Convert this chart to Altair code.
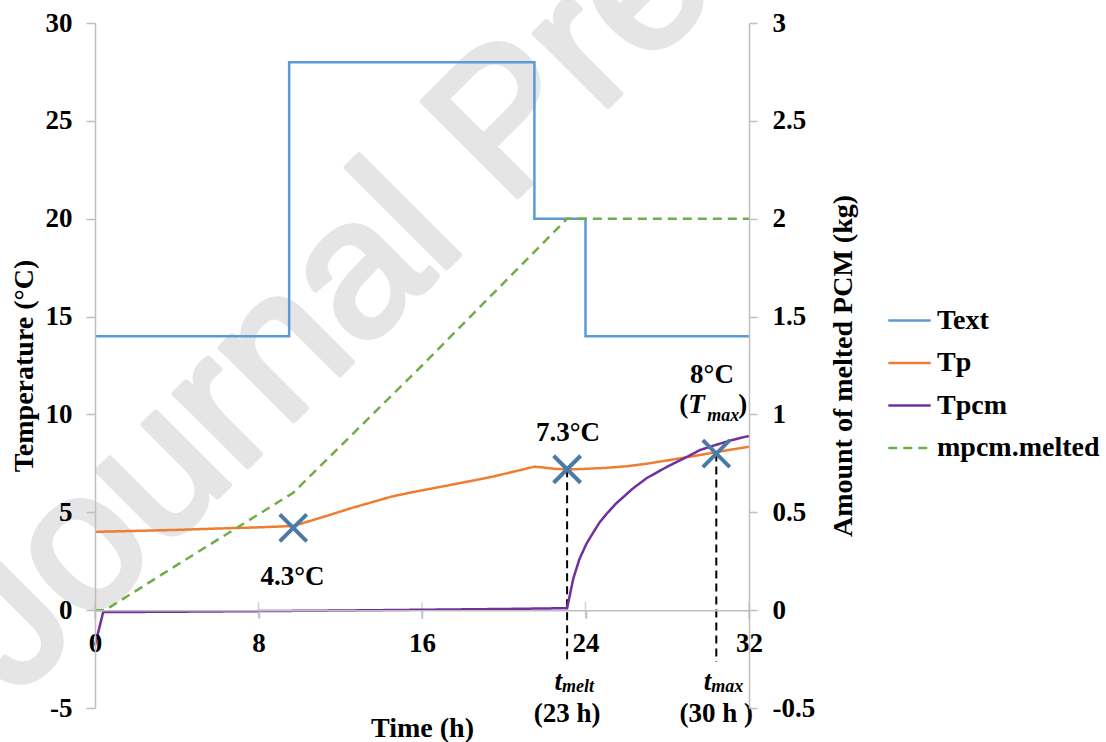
import altair as alt
import pandas as pd

# ---------------- values ----------------
series = ["Text", "Tp", "Tpcm", "mpcm.melted"]
series_colors = ["#5B9BD5", "#ED7D31", "#7030A0", "#70AD47"]

# outdoor temperature (step profile)
text_t = [0, 9.5, 21.5, 24, 32]
text_temp = [14, 28, 20, 14, 14]

# panel temperature
tp_t = [0, 2, 4, 6, 8, 9.7, 10.5, 11.5, 12.5, 13.5, 14.5, 15.5, 16.5, 17.5,
        18.5, 19.5, 20.5, 21.5, 22, 22.5, 23, 23.5, 24, 25, 26, 27, 28, 29,
        30, 31, 32]
tp_temp = [4.0, 4.05, 4.1, 4.17, 4.23, 4.3, 4.55, 4.87, 5.2, 5.5, 5.8, 6.02,
           6.22, 6.42, 6.62, 6.83, 7.08, 7.33, 7.28, 7.22, 7.2, 7.2, 7.22,
           7.27, 7.35, 7.48, 7.65, 7.82, 8.0, 8.18, 8.35]

# PCM temperature
tpcm_t = [0, 0.4, 4, 8, 12, 16, 20, 23.1, 23.4, 23.7, 24.05, 24.4, 24.7,
          25.1, 25.5, 26.3, 27, 28, 29, 29.6, 30.4, 31.2, 32]
tpcm_temp = [-1.8, -0.1, -0.08, -0.05, -0.02, 0.02, 0.06, 0.1, 1.6, 2.6, 3.4,
             4.0, 4.5, 5.0, 5.45, 6.2, 6.75, 7.33, 7.85, 8.18, 8.45, 8.7, 8.9]

# melted PCM mass (right axis, kg)
melt_t = [0, 0.5, 4, 9.7, 16, 23.1, 32]
melt_kg = [0, 0, 0.23, 0.6, 1.25, 2.0, 2.0]

# highlighted points and their guides
mark_t = [9.7, 23.1, 30.4]
mark_temp = [4.2, 7.2, 8.0]
guide_t = [23.1, 30.4]
guide_top = [7.2, 8.0]
guide_bottom = [-2.65, -2.65]

# value annotations
label_text = ["4.3°C", "7.3°C", "8°C"]
label_t = [9.66, 23.14, 30.19]
label_temp = [1.28, 8.64, 11.61]

# time annotations below the axis
time_sym = ["t", "t"]
time_sub = ["melt", "max"]
time_hours = ["(23 h)", "(30 h )"]
time_sym_temp = [-4.08, -4.08]
time_hours_temp = [-5.72, -5.72]

# (T_max) annotation
tmax_t = [30.4]
tmax_temp = [10.07]

# watermark
wm_text = ["Journal Pre-proof"]
wm_t = [-3.87]
wm_temp = [-4.49]

x_ticks = [0, 8, 16, 24, 32]
temp_ticks = [-5, 0, 5, 10, 15, 20, 25, 30]
kg_ticks = [-0.5, 0, 0.5, 1, 1.5, 2, 2.5, 3]

# ---------------- chart ----------------
FONT = "Liberation Serif"
W, H = 654, 685
GREY = "#BFBFBF"

x_scale = alt.Scale(domain=[0, 32], nice=False, zero=False)
y_scale = alt.Scale(domain=[-5, 30], nice=False, zero=False)
kg_scale = alt.Scale(domain=[-0.5, 3], nice=False, zero=False)
color_scale = alt.Scale(domain=series, range=series_colors)
dash_scale = alt.Scale(domain=series, range=[[1, 0], [1, 0], [1, 0], [9, 6]])

x_axis = alt.Axis(values=x_ticks, offset=-H * 5 / 35, tickSize=8, labelPadding=12,
                  title="Time (h)", titleBaseline="alphabetic", titleAlign="center",
                  titleX=W / 2, titleY=126, labelExpr="'' + datum.value", zindex=1)
y_axis = alt.Axis(values=temp_ticks, orient="left", tickSize=9, labelPadding=14,
                  title="Temperature (°C)", titleAngle=270, titleBaseline="alphabetic",
                  titleAlign="center", titleX=-63, titleY=H / 2,
                  labelExpr="'' + datum.value", zindex=1)
kg_axis = alt.Axis(values=kg_ticks, orient="right", tickSize=8, labelPadding=15,
                   title="Amount of melted PCM (kg)", titleAngle=270,
                   titleBaseline="alphabetic", titleAlign="center", titleX=102,
                   titleY=H / 2, labelExpr="'' + datum.value", zindex=1)

legend = alt.Legend(title=None, orient="none", legendX=792, legendY=275,
                    symbolType="stroke", symbolSize=1800, symbolStrokeWidth=2.5,
                    labelFont=FONT, labelFontSize=28, labelFontWeight="bold",
                    labelColor="black", rowPadding=5.5, labelOffset=5, labelLimit=400)


def X(field):
    return alt.X(field, type="quantitative", scale=x_scale, axis=x_axis)


def Y(field):
    return alt.Y(field, type="quantitative", scale=y_scale, axis=y_axis)


color_enc = alt.Color("series:N", scale=color_scale, legend=legend)
dash_enc = alt.StrokeDash("series:N", scale=dash_scale, legend=legend)

# data frames
wm_df = pd.DataFrame({"t": wm_t, "temp": wm_temp, "label": wm_text})
text_df = pd.DataFrame({"t": text_t, "temp": text_temp, "series": "Text"})
lines_df = pd.concat([
    pd.DataFrame({"t": tp_t, "temp": tp_temp, "series": "Tp"}),
    pd.DataFrame({"t": tpcm_t, "temp": tpcm_temp, "series": "Tpcm"}),
])
melt_df = pd.DataFrame({"t": melt_t, "kg": melt_kg, "series": "mpcm.melted"})
tick_df = pd.DataFrame({"t": x_ticks, "temp": [0] * len(x_ticks)})
guide_df = pd.DataFrame({"t": guide_t, "top": guide_top, "bottom": guide_bottom})
mark_df = pd.DataFrame({"t": mark_t, "temp": mark_temp})
label_df = pd.DataFrame({"t": label_t, "temp": label_temp, "label": label_text})
sym_df = pd.DataFrame({"t": guide_t, "temp": time_sym_temp, "sym": time_sym, "sub": time_sub})
hours_df = pd.DataFrame({"t": guide_t, "temp": time_hours_temp, "label": time_hours})
tmax_df = pd.DataFrame({"t": tmax_t, "temp": tmax_temp})

watermark = alt.Chart(wm_df).mark_text(
    font="Liberation Sans", fontSize=195, angle=315, align="left",
    baseline="alphabetic", color="#E5E5E5", stroke="#E5E5E5", strokeWidth=6,
    strokeJoin="round"
).encode(x=X("t"), y=Y("temp"), text="label:N")

axis_ticks = alt.Chart(tick_df).mark_tick(
    orient="vertical", size=16, thickness=1.5, color=GREY
).encode(x=X("t"), y=Y("temp"))

guides = alt.Chart(guide_df).mark_rule(
    color="black", strokeWidth=2, strokeDash=[8, 5]
).encode(x=X("t"), y=Y("top"), y2="bottom")

text_line = alt.Chart(text_df).mark_line(
    interpolate="step-after", strokeWidth=2.5
).encode(x=X("t"), y=Y("temp"), color=color_enc, strokeDash=dash_enc)

temp_lines = alt.Chart(lines_df).mark_line(strokeWidth=2.5).encode(
    x=X("t"), y=Y("temp"), color=color_enc, strokeDash=dash_enc,
    detail="series:N"
)

markers = alt.Chart(mark_df).mark_point(
    shape="M-1,-1L1,1M-1,1L1,-1", filled=False, size=729, strokeWidth=4,
    color="#4A7BA7", opacity=1
).encode(x=X("t"), y=Y("temp"))

bold = dict(font=FONT, fontWeight="bold", color="black", baseline="alphabetic")

labels = alt.Chart(label_df).mark_text(fontSize=27, align="center", **bold).encode(
    x=X("t"), y=Y("temp"), text="label:N")

syms = alt.Chart(sym_df).mark_text(fontSize=27, fontStyle="italic", align="right",
                                   dx=-5, **bold).encode(
    x=X("t"), y=Y("temp"), text="sym:N")
subs = alt.Chart(sym_df).mark_text(fontSize=18, fontStyle="italic", align="left",
                                   dx=-5, dy=2, **bold).encode(
    x=X("t"), y=Y("temp"), text="sub:N")
hours = alt.Chart(hours_df).mark_text(fontSize=27, align="center", **bold).encode(
    x=X("t"), y=Y("temp"), text="label:N")

tmax_open = alt.Chart(tmax_df).mark_text(fontSize=27, align="right", dx=-28,
                                         text="(", **bold).encode(x=X("t"), y=Y("temp"))
tmax_T = alt.Chart(tmax_df).mark_text(fontSize=27, fontStyle="italic", align="left",
                                      dx=-28, text="T", **bold).encode(x=X("t"), y=Y("temp"))
tmax_sub = alt.Chart(tmax_df).mark_text(fontSize=18, fontStyle="italic", align="left",
                                        dx=-9, dy=8, text="max", **bold).encode(
    x=X("t"), y=Y("temp"))
tmax_close = alt.Chart(tmax_df).mark_text(fontSize=27, align="left", dx=22,
                                          text=")", **bold).encode(x=X("t"), y=Y("temp"))

temp_layer = alt.layer(
    watermark, axis_ticks, guides, text_line, temp_lines, markers, labels,
    syms, subs, hours, tmax_open, tmax_T, tmax_sub, tmax_close
)

melt_layer = alt.Chart(melt_df).mark_line(strokeWidth=2.5).encode(
    x=X("t"),
    y=alt.Y("kg", type="quantitative", scale=kg_scale, axis=kg_axis),
    color=color_enc, strokeDash=dash_enc,
)

chart = alt.layer(temp_layer, melt_layer).resolve_scale(
    y="independent"
).properties(
    width=W, height=H,
    autosize=alt.AutoSizeParams(type="none"),
    padding={"left": 95, "top": 23, "right": 357, "bottom": 34},
    background="white",
).configure_view(stroke=None).configure_axis(
    labelFont=FONT, labelFontSize=27, labelFontWeight="bold", labelColor="black",
    titleFont=FONT, titleFontSize=28, titleFontWeight="bold", titleColor="black",
    domainColor=GREY, tickColor=GREY, domainWidth=1.5, tickWidth=1.5,
    grid=False, labelFlush=False, labelOverlap=False,
)

chart.save("out.html", embed_options={"renderer": "svg", "actions": False})
